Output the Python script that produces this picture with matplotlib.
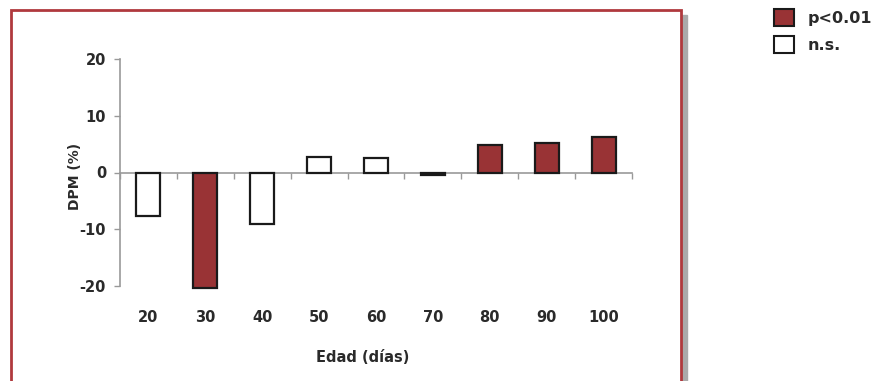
import numpy as np
import matplotlib.pyplot as plt
import matplotlib.patches as mpatches

# ages (days) and DPM (%) values
ages = ['20', '30', '40', '50', '60', '70', '80', '90', '100']
dpm = [-7.6, -20.3, -9.0, 2.8, 2.5, -0.4, 4.9, 5.2, 6.2]
signif = [False, True, False, False, False, False, True, True, True]

red = '#993335'
plt.rcParams['font.family'] = ['DejaVu Sans']
plt.rcParams['font.weight'] = 'bold'
txt = '#2a2a2a'

fig = plt.figure(figsize=(8.79, 3.81), dpi=100)

# outer frame with grey shadow on the right
W, H = 879, 381
fig.patches.append(mpatches.Rectangle((681 / W, -0.1), 6 / W, (H - 15) / H + 0.1,
                                      transform=fig.transFigure, color='#aaaaaa', zorder=0))
fig.patches.append(mpatches.Rectangle((10.5 / W, -0.1), 670 / W, (H - 9.5) / H + 0.1,
                                      transform=fig.transFigure, facecolor='white',
                                      edgecolor='#b0393d', lw=2, zorder=1))

ax = fig.add_axes([120 / W, 1 - 286 / H, 512 / W, 227 / H])
ax.set_zorder(2)
ax.patch.set_alpha(0)

x = np.arange(len(ages))
colors = [red if s else 'white' for s in signif]
bars = ax.bar(x, dpm, width=0.42, color=colors, edgecolor='#1a1a1a', linewidth=1.6, zorder=3)
for b in bars:
    b.set_clip_on(False)

ax.set_xlim(-0.5, len(ages) - 0.5)
ax.set_ylim(-20, 20)
ax.set_yticks([-20, -10, 0, 10, 20])
ax.set_yticklabels(['-20', '-10', '0', '10', '20'], fontsize=10.5, color=txt)

for s in ['top', 'right']:
    ax.spines[s].set_visible(False)
ax.spines['bottom'].set_position(('data', 0))
ax.spines['left'].set_color('#999999')
ax.spines['bottom'].set_color('#999999')
ax.spines['left'].set_linewidth(1.2)
ax.spines['bottom'].set_linewidth(1.2)
ax.set_xticks(np.arange(len(ages) + 1) - 0.5)
ax.set_xticklabels([])
ax.tick_params(axis='both', color='#999999', length=4, width=1)
ax.tick_params(axis='y', pad=6)

for xi, lab in zip(x, ages):
    ax.text(xi, -25.5, lab, ha='center', va='center', fontsize=10.5, color=txt, clip_on=False)

fig.text(363 / W, 1 - 357 / H, 'Edad (días)', ha='center', va='center', fontsize=10.5, color=txt)
fig.text(75 / W, 1 - 176 / H, 'DPM (%)', ha='center', va='center', rotation=90,
         fontsize=10, color=txt)

# legend
handles = [mpatches.Patch(facecolor=red, edgecolor='#1a1a1a', lw=1.5, label='p<0.01'),
           mpatches.Patch(facecolor='white', edgecolor='#1a1a1a', lw=1.5, label='n.s.')]
leg = fig.legend(handles=handles, loc='upper left', bbox_to_anchor=(760 / W, 1 + 5 / H),
                 frameon=False, fontsize=11.5, handlelength=1.2, handleheight=1.25,
                 handletextpad=0.9, labelspacing=0.6)
for t in leg.get_texts():
    t.set_color(txt)

fig.savefig('out.png', dpi=100)
